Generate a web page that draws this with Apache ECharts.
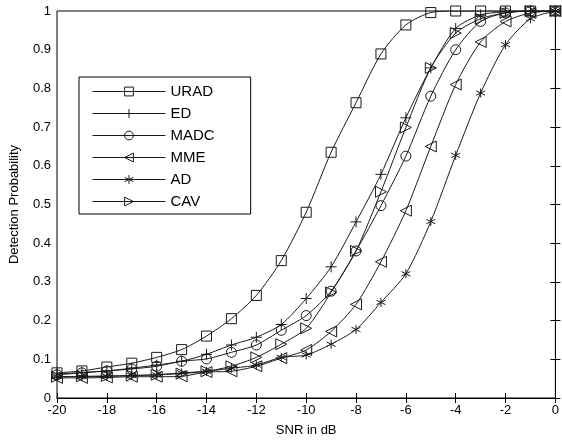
<!DOCTYPE html>
<html>
<head>
<meta charset="utf-8">
<script src="https://cdn.jsdelivr.net/npm/echarts@6/dist/echarts.min.js"></script>
<style>
html,body{margin:0;padding:0;background:#fff;}
#chart{width:562px;height:442px;}
</style>
</head>
<body>
<div id="chart"></div>
<script>
var snr = [-20,-19,-18,-17,-16,-15,-14,-13,-12,-11,-10,-9,-8,-7,-6,-5,-4,-3,-2,-1,0];
var urad = [0.065,0.070,0.080,0.090,0.105,0.125,0.160,0.205,0.265,0.355,0.480,0.635,0.763,0.889,0.964,0.996,1.0,1.0,1.0,1.0,1.0];
var ed   = [0.062,0.066,0.070,0.077,0.085,0.095,0.113,0.137,0.157,0.190,0.257,0.339,0.455,0.578,0.724,0.853,0.955,0.990,0.998,1.0,1.0];
var madc = [0.060,0.065,0.070,0.075,0.082,0.095,0.101,0.118,0.137,0.175,0.213,0.276,0.380,0.497,0.625,0.780,0.900,0.973,0.995,1.0,1.0];
var mme  = [0.052,0.052,0.053,0.055,0.055,0.056,0.067,0.069,0.082,0.103,0.124,0.172,0.242,0.352,0.484,0.650,0.810,0.920,0.973,0.995,1.0];
var ad   = [0.055,0.055,0.056,0.058,0.060,0.065,0.069,0.077,0.085,0.105,0.111,0.139,0.177,0.247,0.321,0.456,0.627,0.788,0.913,0.980,1.0];
var cav  = [0.055,0.056,0.057,0.058,0.060,0.063,0.069,0.082,0.105,0.139,0.180,0.273,0.380,0.533,0.699,0.853,0.943,0.980,0.995,1.0,1.0];
var seriesNames = ['URAD','ED','MADC','MME','AD','CAV'];
var xTicks = [-20,-18,-16,-14,-12,-10,-8,-6,-4,-2,0];

var symbols = {
  URAD: ['rect', 10],
  ED: ['path://M0,-1L0,1M-1,0L1,0', 11],
  MADC: ['circle', 10],
  MME: ['path://M-1,0L1,-1L1,1Z', 11],
  AD: ['path://M0,-1L0,1M-0.87,-0.5L0.87,0.5M-0.87,0.5L0.87,-0.5', 9],
  CAV: ['path://M1,0L-1,-1L-1,1Z', 11]
};
var dataMap = {URAD: urad, ED: ed, MADC: madc, MME: mme, AD: ad, CAV: cav};

function pairs(arr){ return snr.map(function(x,i){ return [x, arr[i]]; }); }

var series = seriesNames.map(function(n){
  return {
    name: n,
    type: 'line',
    data: pairs(dataMap[n]),
    smooth: 0.25,
    symbol: symbols[n][0],
    symbolSize: symbols[n][1],
    showAllSymbol: true,
    lineStyle: {color: '#1a1a1a', width: 1},
    itemStyle: {color: 'rgba(255,255,255,0)', borderColor: '#1a1a1a', borderWidth: 1},
    emphasis: {disabled: true},
    animation: false,
    z: 2
  };
});

var font = 'Liberation Sans, Arial, Helvetica, sans-serif';
var chart = echarts.init(document.getElementById('chart'), null, {renderer: 'canvas'});
chart.setOption({
  animation: false,
  backgroundColor: '#fff',
  grid: {left: 57, right: 3, top: 11, bottom: 42, show: true, borderColor: '#000', borderWidth: 1, backgroundColor: 'transparent'},
  legend: {
    orient: 'vertical',
    left: 79, top: 77,
    data: seriesNames,
    itemWidth: 73, itemHeight: 11, itemGap: 7,
    padding: [7, 36, 5, 13],
    borderColor: '#000', borderWidth: 1,
    backgroundColor: '#fff',
    lineStyle: {width: 1, color: '#1a1a1a'},
    itemStyle: {borderWidth: 1, borderColor: '#1a1a1a', color: 'rgba(255,255,255,0)'},
    textStyle: {fontFamily: font, fontSize: 15, color: '#000'},
    selectedMode: false
  },
  xAxis: [{
    type: 'value', min: -20, max: 0, interval: 2,
    name: 'SNR in dB', nameLocation: 'middle', nameGap: 26,
    nameTextStyle: {fontFamily: font, fontSize: 13, color: '#000'},
    axisLine: {show: true, lineStyle: {color: '#000', width: 1}},
    axisTick: {show: true, inside: true, length: 5, lineStyle: {color: '#000'}},
    axisLabel: {fontFamily: font, fontSize: 13, color: '#000', margin: 6},
    splitLine: {show: false}
  }, {
    type: 'value', min: -20, max: 0, interval: 2, position: 'top',
    axisLine: {show: true, lineStyle: {color: '#000'}},
    axisTick: {show: true, inside: true, length: 5, lineStyle: {color: '#000'}},
    axisLabel: {show: false}, splitLine: {show: false}
  }],
  yAxis: [{
    type: 'value', min: 0, max: 1, interval: 0.1,
    name: 'Detection Probability', nameLocation: 'middle', nameGap: 36,
    nameTextStyle: {fontFamily: font, fontSize: 13, color: '#000'},
    axisLine: {show: true, lineStyle: {color: '#000', width: 1}},
    axisTick: {show: true, inside: true, length: 5, lineStyle: {color: '#000'}},
    axisLabel: {fontFamily: font, fontSize: 13, color: '#000', margin: 6,
      formatter: function(v){ if (Math.abs(v) < 1e-9) return '0'; if (Math.abs(v-1) < 1e-9) return '1'; return v.toFixed(1); }},
    splitLine: {show: false}
  }, {
    type: 'value', min: 0, max: 1, interval: 0.1, position: 'right',
    axisLine: {show: true, lineStyle: {color: '#000'}},
    axisTick: {show: true, inside: true, length: 5, lineStyle: {color: '#000'}},
    axisLabel: {show: false}, splitLine: {show: false}
  }],
  series: series
});
</script>
</body>
</html>
